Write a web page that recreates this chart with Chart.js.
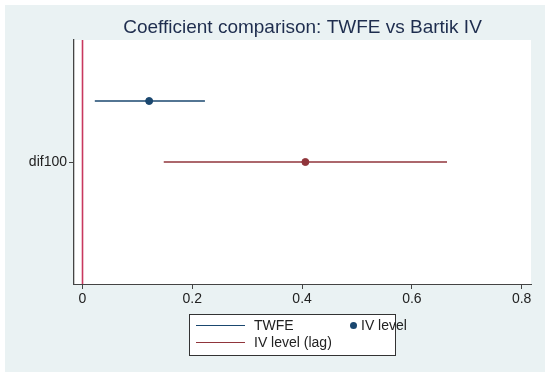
<!DOCTYPE html>
<html>
<head>
<meta charset="utf-8">
<script src="https://cdn.jsdelivr.net/npm/chart.js@4"></script>
<style>
  body { margin: 0; background: #fff; }
  #wrap { position: relative; width: 550px; height: 378px; }
  #legend {
    position: absolute; left: 189px; top: 314px; width: 207px; height: 42px;
    background: #fff; border: 1px solid #333; box-sizing: border-box;
    font: 14px "Liberation Sans", Arial, sans-serif; color: #222;
  }
  .item { position: absolute; white-space: nowrap; line-height: 16px; }
  .swatch { position: absolute; height: 0; width: 49px; }
  .dot { position: absolute; width: 7px; height: 7px; border-radius: 50%; }
</style>
</head>
<body>
<div id="wrap">
  <canvas id="myChart" width="550" height="378"></canvas>
  <div id="legend"></div>
</div>
<script>
// data
const categories = ["dif100"]
const seriesNames = ["TWFE", "IV level (lag)"]
const pointEst = [0.1214, 0.406]
const ciLow = [0.0224, 0.148]
const ciHigh = [0.223, 0.664]
const xTicks = [0, 0.2, 0.4, 0.6, 0.8]
const xTickLabels = ["0", "0.2", "0.4", "0.6", "0.8"]
const markerName = "IV level"

const colors = ["#1a476f", "#90353b"]
const zeroColor = "#c8385e"
const fontFam = '"Liberation Sans", Arial, sans-serif'

// y layout: category sits at 2 on a 0..4 axis, series offset upward
const catPos = 2
const offsets = [-1, 0]

const datasets = []
seriesNames.forEach((name, i) => {
  const y = catPos + offsets[i]
  datasets.push({
    label: name,
    type: "line",
    data: [{ x: ciLow[i], y: y }, { x: ciHigh[i], y: y }],
    borderColor: colors[i],
    borderWidth: 1.4,
    pointRadius: 0,
    order: 2
  })
  datasets.push({
    label: markerName,
    type: "scatter",
    data: [{ x: pointEst[i], y: y }],
    backgroundColor: colors[i],
    borderColor: colors[i],
    pointRadius: 3.5,
    order: 1
  })
})
// vertical reference line at zero
datasets.push({
  label: "zero",
  type: "line",
  data: [{ x: 0, y: 0 }, { x: 0, y: 4 }],
  borderColor: zeroColor,
  borderWidth: 1.6,
  pointRadius: 0,
  order: 3
})

const bgPlugin = {
  id: "bg",
  beforeDraw(chart) {
    const ctx = chart.ctx
    const a = chart.chartArea
    ctx.save()
    ctx.fillStyle = "#fff"
    ctx.fillRect(0, 0, chart.width, chart.height)
    ctx.fillStyle = "#eaf2f3"
    ctx.fillRect(5, 5, 540, 367)
    ctx.fillStyle = "#fff"
    ctx.fillRect(a.left, a.top, a.right - a.left, a.bottom - a.top)
    ctx.restore()
  },
  afterDraw(chart) {
    const ctx = chart.ctx
    const a = chart.chartArea
    ctx.save()
    ctx.fillStyle = "#1e2d4e"
    ctx.font = "19px " + fontFam
    ctx.textAlign = "center"
    ctx.textBaseline = "middle"
    ctx.fillText("Coefficient comparison: TWFE vs Bartik IV", (a.left + a.right) / 2, 28)
    ctx.restore()
  }
}

const config = {
  type: "line",
  data: { datasets },
  options: {
    responsive: false,
    animation: false,
    layout: { padding: { left: 0, top: 40, right: 19, bottom: 0 } },
    plugins: { legend: { display: false }, tooltip: { enabled: false } },
    scales: {
      x: {
        type: "linear",
        min: -0.0155,
        max: 0.817,
        afterBuildTicks: (s) => { s.ticks = xTicks.map(v => ({ value: v })) },
        afterFit: (s) => { s.height = 94 },
        ticks: {
          callback: (v) => xTickLabels[xTicks.indexOf(v)] ?? "",
          color: "#222",
          font: { family: fontFam, size: 14 },
          padding: 2,
          maxRotation: 0
        },
        grid: { drawOnChartArea: false, tickLength: 5, color: "#444" },
        border: { color: "#444", width: 1 }
      },
      y: {
        type: "linear",
        min: 0,
        max: 4,
        reverse: true,
        afterBuildTicks: (s) => { s.ticks = categories.map(() => ({ value: catPos })) },
        afterFit: (s) => { s.width = 74 },
        ticks: {
          callback: () => categories[0],
          color: "#222",
          font: { family: fontFam, size: 14 },
          padding: 2
        },
        grid: { drawOnChartArea: false, tickLength: 5, color: "#444" },
        border: { color: "#444", width: 1.3 }
      }
    }
  },
  plugins: [bgPlugin]
}

new Chart(document.getElementById("myChart"), config)

// legend box, built from the same names and colours
const legend = document.getElementById("legend")
legend.innerHTML =
  '<div class="swatch" style="left:6px;top:10px;border-top:1.4px solid ' + colors[0] + '"></div>' +
  '<div class="item" style="left:64px;top:2px">' + seriesNames[0] + '</div>' +
  '<div class="dot" style="left:160px;top:7px;background:' + colors[0] + '"></div>' +
  '<div class="item" style="left:171px;top:2px">' + markerName + '</div>' +
  '<div class="swatch" style="left:6px;top:27px;border-top:1.4px solid ' + colors[1] + '"></div>' +
  '<div class="item" style="left:64px;top:19px">' + seriesNames[1] + '</div>'
</script>
</body>
</html>
